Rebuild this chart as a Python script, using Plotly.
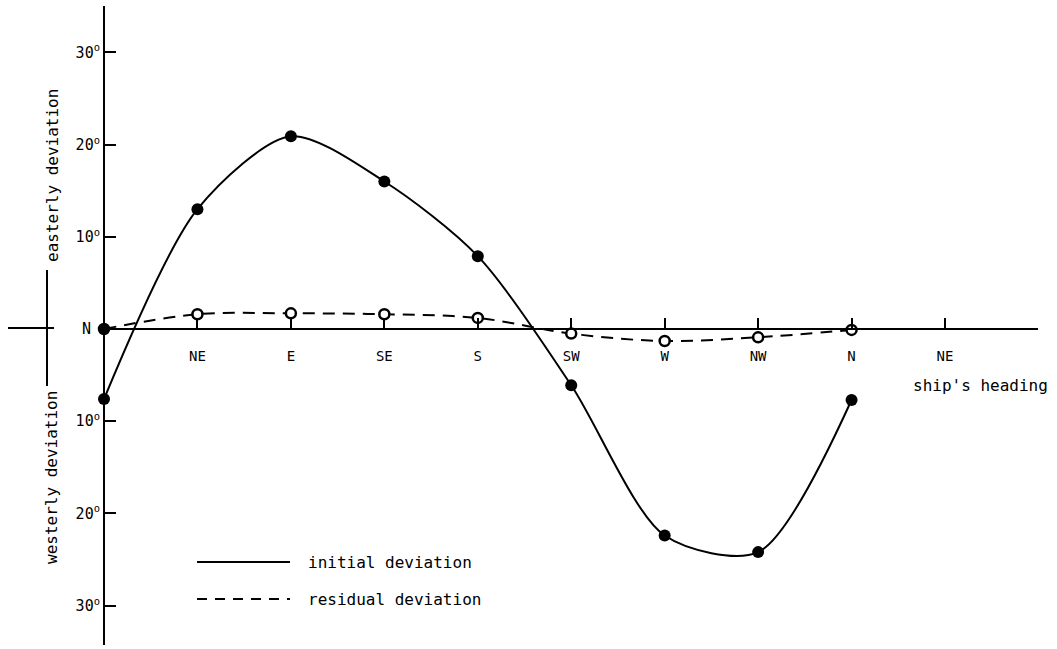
import plotly.graph_objects as go

# Compass headings (index 0..9 along the horizontal axis)
heading_pos = [0, 1, 2, 3, 4, 5, 6, 7, 8, 9]
heading_labels = ["", "NE", "E", "SE", "S", "SW", "W", "NW", "N", "NE"]

# Measured points at each heading (N .. N), degrees; positive = easterly
meas_pos = [0, 1, 2, 3, 4, 5, 6, 7, 8]
initial_dev = [-7.6, 13.0, 20.9, 16.0, 7.9, -6.1, -22.4, -24.2, -7.7]
residual_dev = [0.0, 1.6, 1.7, 1.6, 1.2, -0.5, -1.3, -0.9, -0.1]

# Vertical axis ticks
dev_ticks = [30, 20, 10, 0, -10, -20, -30]
dev_ticktext = ["30<sup>o</sup>", "20<sup>o</sup>", "10<sup>o</sup>", "N\u00a0",
                "10<sup>o</sup>", "20<sup>o</sup>", "30<sup>o</sup>"]

W, H = 1057, 649
FONT = "DejaVu Sans Mono"

fig = go.Figure()

fig.add_trace(go.Scatter(
    x=meas_pos, y=initial_dev, mode="lines+markers",
    line=dict(color="black", width=2, shape="spline", smoothing=0.8),
    marker=dict(size=12, color="black"),
    showlegend=False, cliponaxis=False,
))

fig.add_trace(go.Scatter(
    x=meas_pos, y=residual_dev, mode="lines+markers",
    line=dict(color="black", width=2, dash="12px,8px", shape="spline", smoothing=1.0),
    marker=dict(size=10, color=["black"] + ["white"] * (len(meas_pos) - 1),
                line=dict(color="black", width=2.5)),
    showlegend=False, cliponaxis=False,
))

# pixel -> paper helpers for decorations
def px(x):
    return x / W

def py(y):
    return 1 - y / H

shapes = [
    # short stub of the heading axis left of the deviation axis
    dict(type="line", xref="paper", yref="paper", x0=px(8), x1=px(54),
         y0=py(328), y1=py(328), line=dict(color="black", width=2)),
    # bar between the two vertical titles
    dict(type="line", xref="paper", yref="paper", x0=px(47), x1=px(47),
         y0=py(270), y1=py(386), line=dict(color="black", width=2)),
    # legend samples
    dict(type="line", xref="paper", yref="paper", x0=px(197), x1=px(290),
         y0=py(562), y1=py(562), line=dict(color="black", width=2)),
    dict(type="line", xref="paper", yref="paper", x0=px(197), x1=px(290),
         y0=py(599), y1=py(599), line=dict(color="black", width=2, dash="10px,8px")),
]

def note(text, x, y, xanchor="center", angle=0, size=16):
    return dict(text=text, x=px(x), y=py(y), xref="paper", yref="paper",
                xanchor=xanchor, yanchor="middle", textangle=angle, showarrow=False,
                font=dict(family=FONT, size=size, color="black"))

annotations = [
    note("easterly deviation", 53, 176, angle=-90),
    note("westerly deviation", 51, 478, angle=-90),
    note("ship's heading", 911, 385, xanchor="left"),
    note("initial deviation", 306, 562, xanchor="left"),
    note("residual deviation", 306, 599, xanchor="left"),
]

# axis scales: heading index 0 at px 104, index 9 at px 945; 0 deg at py 329, 9.22 px/deg
ppu = (945 - 104) / 9
x_dom = [104 / W, 1038 / W]
x_range = [0, (1038 - 104) / ppu]
ppd = 9.22
y_dom = [(H - 645) / H, (H - 6) / H]
y_range = [-(645 - 329) / ppd, (329 - 6) / ppd]

fig.update_layout(
    width=W, height=H,
    margin=dict(l=0, r=0, t=0, b=0),
    paper_bgcolor="white", plot_bgcolor="white",
    font=dict(family=FONT, color="black"),
    shapes=shapes, annotations=annotations,
    xaxis=dict(
        domain=x_dom, range=x_range, anchor="free", position=py(329),
        showgrid=False, zeroline=False, showline=True, linecolor="black", linewidth=2,
        tickmode="array", tickvals=heading_pos, ticktext=heading_labels,
        ticks="inside", ticklen=10, tickwidth=2, tickcolor="black",
        ticklabelstandoff=14,
        tickfont=dict(family=FONT, size=14, color="black"),
    ),
    yaxis=dict(
        domain=y_dom, range=y_range, anchor="free", position=px(104),
        showgrid=False, zeroline=False, showline=True, linecolor="black", linewidth=2,
        tickmode="array", tickvals=dev_ticks, ticktext=dev_ticktext,
        ticks="inside", ticklen=11, tickwidth=2, tickcolor="black",
        tickfont=dict(family=FONT, size=15, color="black"),
    ),
)

fig.write_html("out.html")
